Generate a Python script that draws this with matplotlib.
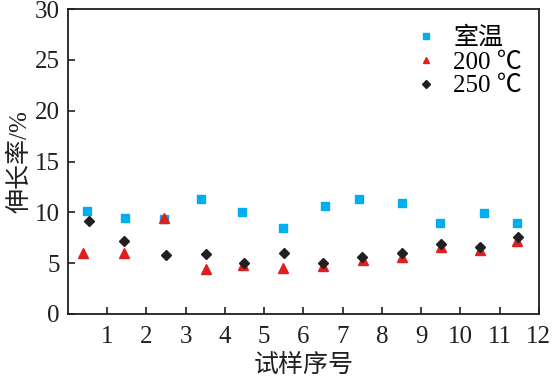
import matplotlib
matplotlib.use('Agg')
import matplotlib.pyplot as plt

plt.rcParams['font.family'] = ['Liberation Serif', 'Noto Sans CJK SC']

# sample positions and elongation (%)
x_rt = [0.49, 1.45, 2.44, 3.39, 4.44, 5.47, 6.56, 7.43, 8.51, 9.49, 10.60, 11.45]
y_rt = [10.1, 9.4, 9.3, 11.3, 10.0, 8.5, 10.6, 11.3, 10.9, 9.0, 9.9, 9.0]

x_200 = [0.39, 1.42, 2.46, 3.52, 4.47, 5.48, 6.49, 7.51, 8.51, 9.50, 10.50, 11.45]
y_200 = [6.0, 6.0, 9.4, 4.4, 4.8, 4.5, 4.7, 5.3, 5.6, 6.6, 6.3, 7.2]

x_250 = [0.54, 1.44, 2.50, 3.53, 4.50, 5.50, 6.51, 7.49, 8.51, 9.51, 10.50, 11.47]
y_250 = [9.1, 7.2, 5.8, 5.9, 5.0, 6.0, 5.0, 5.6, 6.0, 6.9, 6.6, 7.6]

labels = ['室温', '200 ℃', '250 ℃']
xticks = list(range(1, 13))
yticks = list(range(0, 31, 5))

fig = plt.figure(figsize=(5.52, 3.81), dpi=100)
ax = fig.add_axes([0.123, 0.176, 0.853, 0.8])

ax.plot(x_rt, y_rt, 's', color='#00aeef', markersize=5.8, label=labels[0], linestyle='none')
ax.plot(x_200, y_200, '^', color='#e02020', markersize=6.5, label=labels[1], linestyle='none')
ax.plot(x_250, y_250, 'D', color='#231f20', markersize=5.5, label=labels[2], linestyle='none')

ax.set_xlim(0, 12)
ax.set_ylim(0, 30)
ax.set_xticks(xticks)
ax.set_yticks(yticks)
ax.tick_params(direction='in', length=5, width=1.2, labelsize=18, colors='#231f20')
ax.tick_params(axis='x', pad=9)
ax.tick_params(axis='y', pad=6)
for s in ax.spines.values():
    s.set_linewidth(1.3)
    s.set_color('#231f20')

ax.set_xlabel('试样序号', fontsize=18, labelpad=4, color='#231f20', fontweight='light')
ax.set_ylabel('伸长率/%', fontsize=18, labelpad=2, color='#231f20', fontweight='light')

ax.legend(loc='upper right', frameon=False, fontsize=18, handletextpad=0.7,
          labelspacing=0.05, handlelength=0.8, borderaxespad=0.2, markerscale=0.75,
          bbox_to_anchor=(0.996, 0.99))

fig.savefig('out.png', dpi=100)
